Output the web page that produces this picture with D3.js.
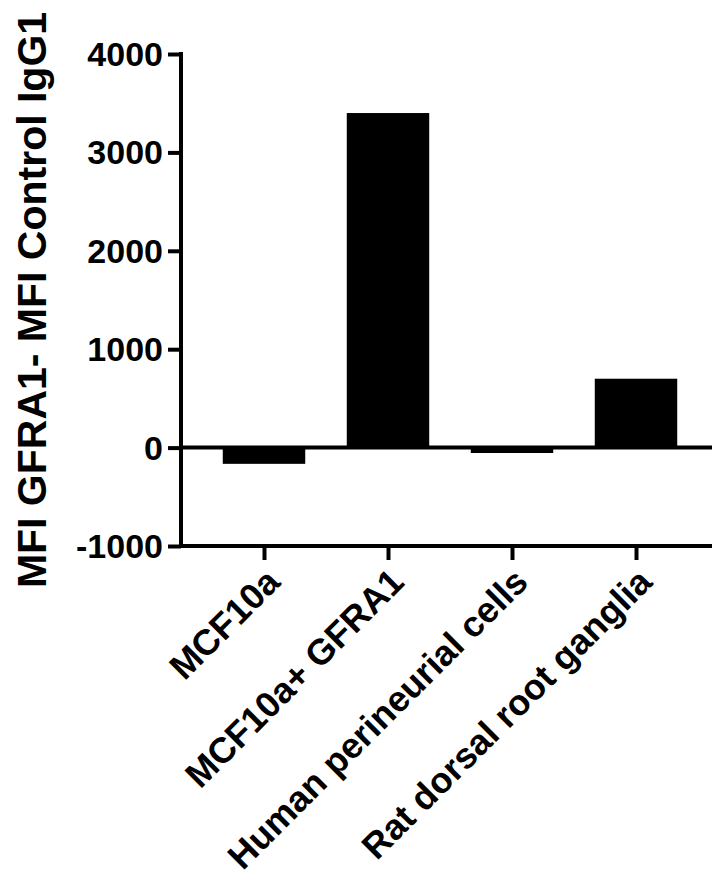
<!DOCTYPE html>
<html>
<head>
<meta charset="utf-8">
<script src="https://cdn.jsdelivr.net/npm/d3@7"></script>
<style>
  body { margin: 0; background: #fff; }
  svg { display: block; }
  text { font-family: "Liberation Sans", Arial, sans-serif; font-weight: bold; fill: #000; }
</style>
</head>
<body>
<div class="areaGrafica"></div>
<script>
// datos
const categorias = ['MCF10a', 'MCF10a+ GFRA1', 'Human perineurial cells', 'Rat dorsal root ganglia'];
const valores = [-165, 3400, -55, 700];
const ticksY = [-1000, 0, 1000, 2000, 3000, 4000];
const tituloY = 'MFI GFRA1- MFI Control IgG1';

const w = 712;
const h = 880;
const ejeX0 = 181;
const ejeX1 = 712;

const svg = d3.select('.areaGrafica')
  .append('svg')
  .attr('width', w)
  .attr('height', h);

const yScale = d3.scaleLinear()
  .domain([-1000, 4000])
  .range([546, 54]);

const xScale = d3.scalePoint()
  .domain(categorias)
  .range([202, 698])
  .padding(0.5);

const barWidth = xScale.step() * 0.665;

// barras
svg.selectAll('rect')
  .data(valores)
  .enter()
  .append('rect')
  .attr('x', (d, i) => xScale(categorias[i]) - barWidth / 2)
  .attr('width', barWidth)
  .attr('y', d => Math.min(yScale(d), yScale(0)))
  .attr('height', d => Math.abs(yScale(d) - yScale(0)))
  .attr('fill', '#000');

// eje Y
const yAxis = d3.axisLeft(yScale)
  .tickValues(ticksY)
  .tickFormat(d => String(d))   // guion normal, no el signo menos unicode
  .tickSize(13)
  .tickSizeOuter(0)
  .tickPadding(5);

const gY = svg.append('g')
  .attr('id', 'ejeY')
  .attr('transform', 'translate(' + ejeX0 + ',0)')
  .call(yAxis);

gY.select('.domain').remove();
gY.selectAll('.tick line').attr('stroke', '#000').attr('stroke-width', 4);
gY.selectAll('.tick text').style('font-size', '34px').attr('dy', '0.34em');

gY.append('line')
  .attr('x1', 0).attr('x2', 0)
  .attr('y1', yScale(4000) - 2).attr('y2', yScale(-1000) + 2)
  .attr('stroke', '#000')
  .attr('stroke-width', 4);

// linea del cero
svg.append('line')
  .attr('x1', ejeX0).attr('x2', ejeX1)
  .attr('y1', yScale(0)).attr('y2', yScale(0))
  .attr('stroke', '#000')
  .attr('stroke-width', 4);

// eje X abajo
const xAxis = d3.axisBottom(xScale)
  .tickSize(14)
  .tickSizeOuter(0)
  .tickFormat('');

const gX = svg.append('g')
  .attr('id', 'ejeX')
  .attr('transform', 'translate(0,' + yScale(-1000) + ')')
  .call(xAxis);

gX.select('.domain').remove();
gX.selectAll('.tick line').attr('stroke', '#000').attr('stroke-width', 4);

gX.append('line')
  .attr('x1', ejeX0 - 2).attr('x2', ejeX1)
  .attr('y1', 0).attr('y2', 0)
  .attr('stroke', '#000')
  .attr('stroke-width', 4);

svg.append('g')
  .selectAll('text')
  .data(categorias)
  .enter()
  .append('text')
  .attr('text-anchor', 'end')
  .style('font-size', '36px')
  .attr('transform', d => 'translate(' + (xScale(d) + 18) + ',' + (yScale(-1000) + 38) + ') rotate(-45)')
  .text(d => d);

// titulo Y
svg.append('text')
  .attr('text-anchor', 'middle')
  .style('font-size', '41px')
  .attr('transform', 'translate(46,300) rotate(-90)')
  .text(tituloY);
</script>
</body>
</html>
